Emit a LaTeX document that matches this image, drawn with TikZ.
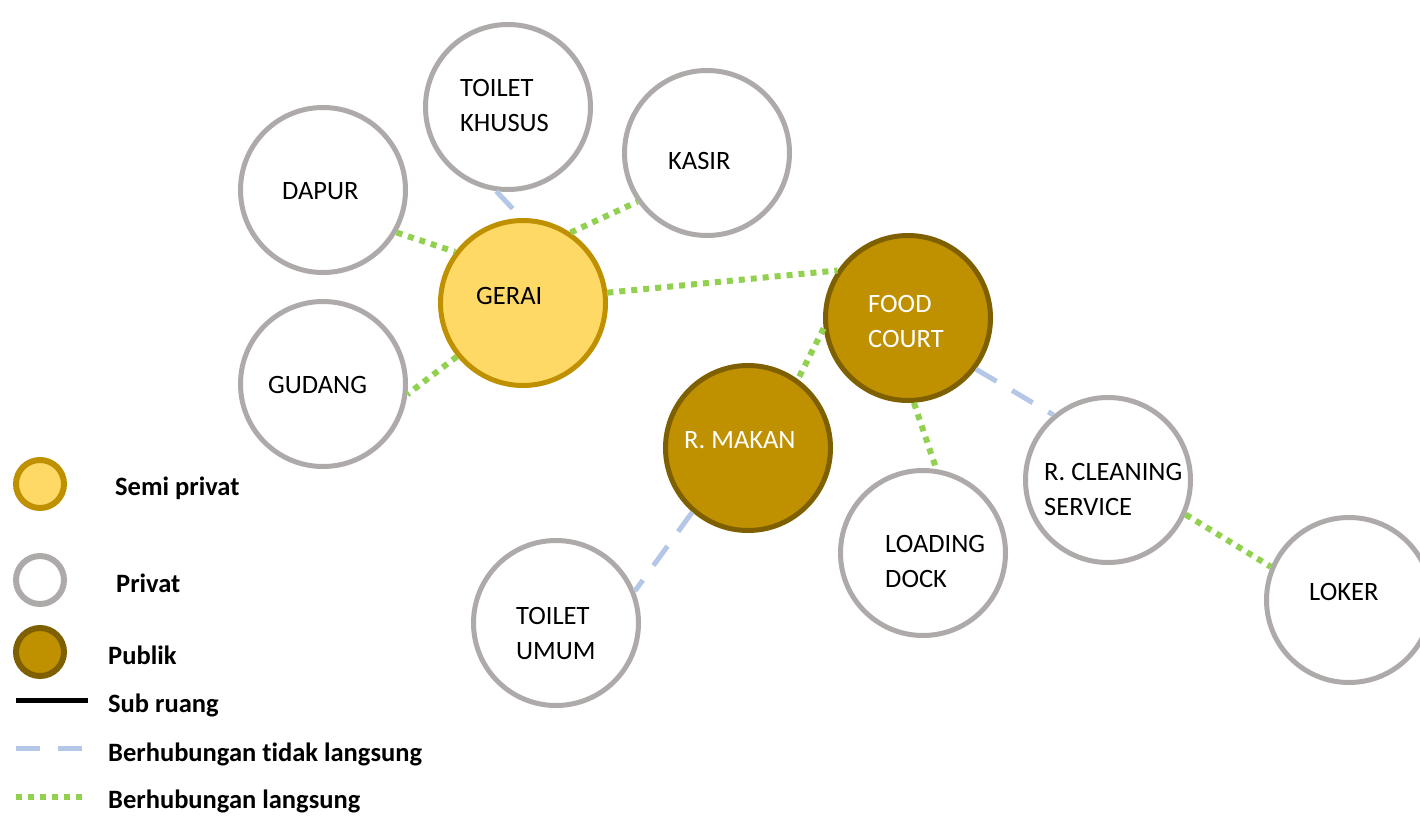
\documentclass[tikz,border=0pt]{standalone}
\usepackage{fontspec}
\setmainfont{Carlito}[Ligatures=NoCommon]
\usetikzlibrary{positioning}
\definecolor{privline}{HTML}{AEAAAA}
\definecolor{semfill}{HTML}{FFD966}
\definecolor{semline}{HTML}{BF9000}
\definecolor{pubfill}{HTML}{BF9000}
\definecolor{publine}{HTML}{7F6000}
\definecolor{directcol}{HTML}{92D050}
\definecolor{indirectcol}{HTML}{B4C7E7}
\tikzset{
  room/.style={circle, minimum size=165pt, inner sep=0pt, line width=5pt},
  privroom/.style={room, draw=privline, fill=white},
  semroom/.style={room, draw=semline, fill=semfill},
  pubroom/.style={room, draw=publine, fill=pubfill},
  roomtxt/.style={anchor=west, align=left, inner sep=0pt, font=\fontsize{26.5}{35}\selectfont},
  legtxt/.style={anchor=base west, inner sep=0pt, font=\fontsize{26.5}{30}\selectfont\bfseries},
  directln/.style={directcol, line width=6pt, dash pattern=on 6pt off 6pt},
  indirectln/.style={indirectcol, line width=5pt, dash pattern=on 24pt off 18pt},
  subln/.style={black, line width=5pt},
}

\begin{document}
\begin{tikzpicture}[x=1pt, y=-1pt]
  \useasboundingbox (0,0) rectangle (1420,816);
  \node[privroom] (tkhusus) at (508,107) {};
  \node[privroom] (kasir) at (707,153) {};
  \node[privroom] (dapur) at (323,190) {};
  \node[semroom] (gerai) at (523,303) {};
  \node[privroom] (gudang) at (323,384) {};
  \node[pubroom] (fcourt) at (908,318) {};
  \node[pubroom] (rmakan) at (748,448) {};
  \node[privroom] (ldock) at (923,553) {};
  \node[privroom] (rcs) at (1108,480) {};
  \node[privroom] (loker) at (1349,600) {};
  \node[privroom] (tumum) at (556,623) {};

  \node[roomtxt] (tkhususT) at (460,105.5) {TOILET\\KHUSUS};
  \node[roomtxt] (kasirT) at (668,161) {KASIR};
  \node[roomtxt] (dapurT) at (282,191) {DAPUR};
  \node[roomtxt] (geraiT) at (476,296) {GERAI};
  \node[roomtxt] (gudangT) at (268,385) {GUDANG};
  \node[roomtxt, white] (fcourtT) at (868,321.5) {FOOD\\COURT};
  \node[roomtxt, white] (rmakanT) at (684,440) {R. MAKAN};
  \node[roomtxt] (ldockT) at (885,561) {LOADING\\DOCK};
  \node[roomtxt] (rcsT) at (1044,489) {R. CLEANING\\SERVICE};
  \node[roomtxt] (lokerT) at (1309,592) {LOKER};
  \node[roomtxt] (tumumT) at (516,633.5) {TOILET\\UMUM};

  \draw[indirectln] (tkhusus.-98) -- (gerai.91);
  \draw[directln] (dapur.-30) -- (gerai.143);
  \draw[directln] (gerai.56) -- (kasir.-145);
  \draw[directln] (gerai.219) -- (gudang.-7);
  \draw[directln] (gerai.7) -- (fcourt.146);
  \draw[directln] (fcourt.187) -- (rmakan.54);
  \draw[directln] (fcourt.-86) -- (ldock.81);
  \draw[indirectln] (fcourt.-37) -- (rcs.130);
  \draw[directln] (rcs.-24) -- (loker.157);
  \draw[indirectln] (rmakan.229) -- (tumum.22);

  \node[semroom, minimum size=48pt, line width=6pt] (legsem) at (40,484) {};
  \node[privroom, minimum size=48pt, line width=6pt] (legpriv) at (40,580) {};
  \node[pubroom, minimum size=48pt, line width=6pt] (legpub) at (40,652) {};
  \node[legtxt] (legsemT) at (115,495) {Semi privat};
  \node[legtxt] (legprivT) at (116,592) {Privat};
  \node[legtxt] (legpubT) at (108,664) {Publik};
  \node[legtxt] (legsubT) at (108,712) {Sub ruang};
  \node[legtxt] (legindT) at (108,761) {Berhubungan tidak langsung};
  \node[legtxt] (legdirT) at (108,808) {Berhubungan langsung};
  \coordinate (subA) at (16,700);
  \coordinate (subB) at (88,700);
  \coordinate (indA) at (16,748);
  \coordinate (indB) at (82,748);
  \coordinate (dirA) at (16,797);
  \coordinate (dirB) at (82,797);
  \draw[subln] (subA) -- (subB);
  \draw[indirectln] (indA) -- (indB);
  \draw[directln] (dirA) -- (dirB);
\end{tikzpicture}
\end{document}
